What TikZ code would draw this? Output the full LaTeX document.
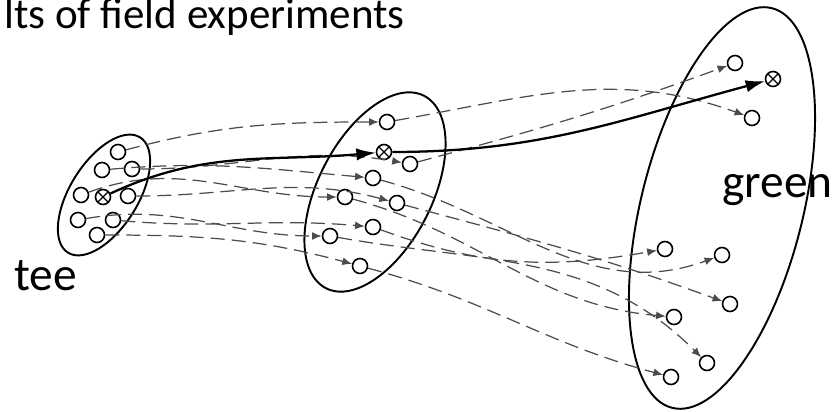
\documentclass[tikz,border=0pt]{standalone}
\usepackage{fontspec}
\setmainfont{Carlito}
\usetikzlibrary{arrows.meta,shapes.geometric}

\begin{document}
\begin{tikzpicture}[
  x=0.02cm, y=0.02cm,
  >=Latex,
  ring/.style={draw, line width=1.1pt, ellipse, inner sep=0pt},
  dot/.style={draw, circle, line width=0.9pt, minimum size=0.3cm, inner sep=0pt},
  xdot/.style={dot, path picture={\draw[line width=0.7pt] (path picture bounding box.north west) -- (path picture bounding box.south east) (path picture bounding box.south west) -- (path picture bounding box.north east);}},
  traj/.style={-{Latex[length=5.5pt,width=4.5pt]}, line width=0.7pt, black!70, dash pattern=on 8pt off 4pt},
  mean/.style={-{Latex[length=11pt,width=7pt]}, line width=1.3pt},
  lbl/.style={font=\fontsize{27}{32}\selectfont, anchor=base west, inner sep=0pt}
]
\clip (0,0) rectangle (835,-412);

\node[lbl, font=\fontsize{24.5}{29}\selectfont] (title) at (4,-29) {lts of field experiments};
\node[lbl] (tee) at (14,-290) {tee};
\node[lbl] (green) at (722,-197) {green};

\node[ring, minimum width=2.72cm, minimum height=1.36cm, rotate=58] (tee set) at (104,-195) {};
\node[ring, minimum width=4.32cm, minimum height=2.28cm, rotate=63] (mid set) at (375,-192) {};
\node[ring, minimum width=8.24cm, minimum height=3.24cm, rotate=76] (green set) at (722,-208) {};

\node[dot] (l1) at (118,-152) {};
\node[dot] (l2) at (102,-170) {};
\node[dot] (l3) at (132,-169) {};
\node[dot] (l4) at (81,-195) {};
\node[xdot] (lx) at (103,-197) {};
\node[dot] (l5) at (128,-196) {};
\node[dot] (l6) at (78,-220) {};
\node[dot] (l7) at (113,-220) {};
\node[dot] (l8) at (97,-235) {};

\node[dot] (m1) at (387,-122) {};
\node[xdot] (mx) at (384,-152) {};
\node[dot] (m2) at (410,-164) {};
\node[dot] (m3) at (373,-178) {};
\node[dot] (m4) at (345,-197) {};
\node[dot] (m5) at (397,-203) {};
\node[dot] (m6) at (373,-227) {};
\node[dot] (m7) at (330,-236) {};
\node[dot] (m8) at (360,-266) {};

\node[dot] (r1) at (735,-63) {};
\node[xdot] (rx) at (773,-79) {};
\node[dot] (r2) at (752,-118) {};
\node[dot] (r3) at (665,-249) {};
\node[dot] (r4) at (722,-255) {};
\node[dot] (r5) at (730,-304) {};
\node[dot] (r6) at (674,-317) {};
\node[dot] (r7) at (707,-363) {};
\node[dot] (r8) at (671,-377) {};

\draw[traj] (l1) to[out=15, in=180] (m1);
\draw[traj] (l3) to[out=0, in=170] (m2);
\draw[traj] (l2) to[out=5, in=175] (m3);
\draw[traj] (l4) to[out=20, in=180] (m4);
\draw[traj] (l5) to[out=0, in=165] (m5);
\draw[traj] (l7) to[out=-5, in=175] (m6);
\draw[traj] (l6) to[out=10, in=180] (m7);
\draw[traj] (l8) to[out=0, in=165] (m8);

\draw[traj] (m1) to[out=10, in=160] (r2);
\draw[traj] (m2) to[out=15, in=200] (r1);
\draw[traj] (m3) to[out=-15, in=200] (r4);
\draw[traj] (m5) to[out=-15, in=160] (r5);
\draw[traj] (m6) to[out=-20, in=190] (r3);
\draw[traj] (m4) to[out=-15, in=175] (r6);
\draw[traj] (m8) to[out=-15, in=165] (r8);
\draw[traj] (m7) to[out=-10, in=135] (r7);

\draw[mean] (lx) to[out=25, in=185] (mx);
\draw[mean] (mx) to[out=0, in=195] (rx);
\end{tikzpicture}
\end{document}
